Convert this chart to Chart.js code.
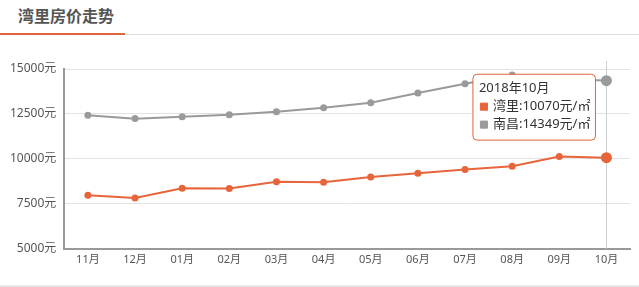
<!DOCTYPE html>
<html>
<head>
<meta charset="utf-8">
<script src="https://cdn.jsdelivr.net/npm/chart.js@4/dist/chart.umd.min.js"></script>
<style>
  body { margin: 0; background: #fff; font-family: "Noto Sans", "Noto Sans CJK SC", sans-serif; }
  #page { position: relative; width: 639px; height: 287px; overflow: hidden; }
  #title { position: absolute; left: 18px; top: 3px; font-size: 16px; font-weight: bold; color: #555; }
  #line1 { position: absolute; left: 0; top: 33px; width: 125px; height: 2px; background: #e0643c; }
  #line2 { position: absolute; left: 125px; top: 34px; width: 514px; height: 1px; background: #ddd; }
  #bottom { position: absolute; left: 0; top: 285px; width: 639px; height: 2px; background: #e8e8e8; }
  #wrap { position: absolute; left: 0; top: 40px; width: 639px; height: 230px; }
</style>
</head>
<body>
<div id="page">
  <div id="title">湾里房价走势</div>
  <div id="line1"></div>
  <div id="line2"></div>
  <div id="wrap"><canvas id="chart"></canvas></div>
  <div id="bottom"></div>
</div>
<script>
  const months = ['11月', '12月', '01月', '02月', '03月', '04月', '05月', '06月', '07月', '08月', '09月', '10月'];
  const years = ['2017', '2017', '2018', '2018', '2018', '2018', '2018', '2018', '2018', '2018', '2018', '2018'];
  const wanliPrices = [7980, 7820, 8370, 8360, 8730, 8700, 8990, 9200, 9410, 9590, 10130, 10070];
  const nanchangPrices = [12430, 12240, 12340, 12450, 12620, 12850, 13120, 13670, 14180, 14670, 14500, 14349];
  const yTicks = [5000, 7500, 10000, 12500, 15000];

  const orange = '#e8643a';
  const gray = '#9a9a9a';
  const font = '"Noto Sans", "Noto Sans CJK SC"';

  Chart.Tooltip.positioners.midLeft = function (items) {
    if (!items.length) return false;
    let x = items[0].element.x;
    let y = items.reduce((s, it) => s + it.element.y, 0) / items.length;
    return { x: x, y: y - 12 };
  };

  // vertical cursor line at the hovered month
  const cursorLine = {
    id: 'cursorLine',
    beforeDatasetsDraw(chart) {
      const active = chart.tooltip.getActiveElements();
      if (!active.length) return;
      const x = active[0].element.x;
      const ctx = chart.ctx;
      ctx.save();
      ctx.strokeStyle = '#cfcfcf';
      ctx.lineWidth = 1;
      ctx.beginPath();
      ctx.moveTo(Math.round(x) + 0.5, chart.chartArea.top - 8);
      ctx.lineTo(Math.round(x) + 0.5, chart.chartArea.bottom);
      ctx.stroke();
      ctx.restore();
    }
  };

  function series(label, data, color) {
    return {
      label: label,
      data: data,
      borderColor: color,
      backgroundColor: color,
      pointHoverBackgroundColor: color,
      pointHoverBorderColor: color,
      borderWidth: 2,
      pointRadius: 3.5,
      pointHoverRadius: 5.5,
      pointBorderWidth: 0,
      pointHoverBorderWidth: 0,
      tension: 0
    };
  }

  const chart = new Chart(document.getElementById('chart'), {
    type: 'line',
    data: {
      labels: months,
      datasets: [
        series('湾里', wanliPrices, orange),
        series('南昌', nanchangPrices, gray)
      ]
    },
    options: {
      responsive: true,
      maintainAspectRatio: false,
      animation: false,
      events: [],
      layout: { padding: { top: 29, right: 9, left: 2, bottom: 0 } },
      interaction: { mode: 'index', intersect: false },
      plugins: {
        legend: { display: false },
        tooltip: {
          position: 'midLeft',
          xAlign: 'right',
          yAlign: 'center',
          caretSize: 0,
          caretPadding: 11,
          backgroundColor: '#fff',
          borderColor: '#e0643c',
          borderWidth: 1,
          cornerRadius: 4,
          padding: { top: 7, bottom: 8, left: 6, right: 5 },
          titleColor: '#333',
          bodyColor: '#333',
          titleFont: { family: font, size: 13, weight: 'normal', lineHeight: 1.15 },
          bodyFont: { family: font, size: 13, lineHeight: 1.15 },
          titleMarginBottom: 3,
          bodySpacing: 3,
          usePointStyle: true,
          boxWidth: 10,
          boxHeight: 10,
          boxPadding: 2,
          callbacks: {
            title: items => years[items[0].dataIndex] + '年' + months[items[0].dataIndex],
            label: item => item.dataset.label + ':' + item.raw + '元/㎡',
            labelPointStyle: () => ({ pointStyle: 'rect', rotation: 0 }),
            labelColor: item => ({
              borderColor: item.dataset.borderColor,
              backgroundColor: item.dataset.borderColor,
              borderWidth: 0
            })
          }
        }
      },
      scales: {
        x: {
          offset: true,
          grid: { display: false, drawTicks: false },
          border: { color: '#999', width: 2 },
          ticks: {
            color: '#555',
            padding: 4,
            font: { family: font, size: 11 }
          }
        },
        y: {
          min: 5000,
          max: 15000,
          afterBuildTicks: axis => { axis.ticks = yTicks.map(v => ({ value: v })); },
          grid: { color: '#e2e2e2', drawTicks: false },
          border: { color: '#999', width: 2 },
          ticks: {
            color: '#555',
            padding: 8,
            font: { family: font, size: 12 },
            callback: v => v + '元'
          }
        }
      }
    },
    plugins: [cursorLine]
  });

  const last = months.length - 1;
  const act = [{ datasetIndex: 0, index: last }, { datasetIndex: 1, index: last }];
  chart.setActiveElements(act);
  chart.tooltip.setActiveElements(act, { x: 0, y: 0 });
  chart.update();
</script>
</body>
</html>
